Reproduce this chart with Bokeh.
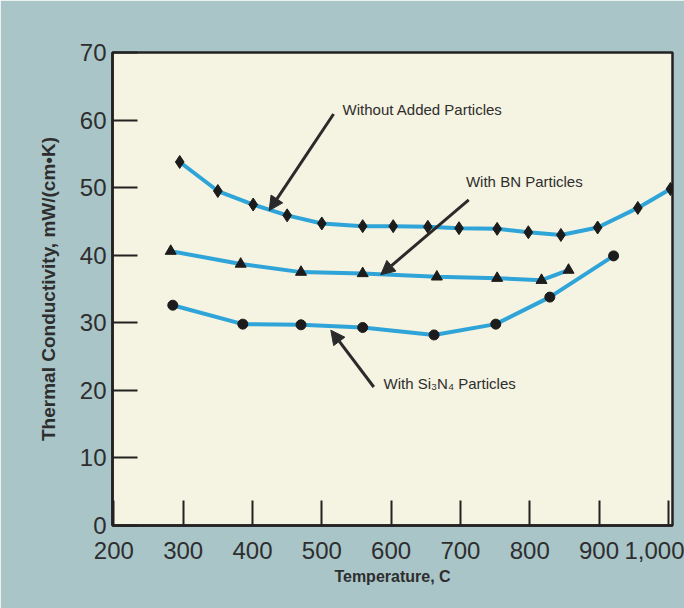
from bokeh.plotting import figure
from bokeh.models import Arrow, NormalHead, Label, FixedTicker, NumeralTickFormatter, Range1d
from bokeh.embed import file_html
from bokeh.resources import INLINE

# ---- data ----
temp_without = [295, 350, 401, 450, 500, 559, 603, 653, 698, 753, 798, 845, 898, 956, 1003]
k_without = [53.8, 49.5, 47.5, 45.9, 44.7, 44.3, 44.3, 44.2, 44.0, 43.9, 43.4, 43.0, 44.1, 47.0, 49.8]

temp_bn = [282, 383, 470, 559, 666, 753, 817, 856]
k_bn = [40.6, 38.7, 37.5, 37.3, 36.8, 36.6, 36.3, 37.8]

temp_si = [285, 386, 470, 559, 662, 751, 829, 921]
k_si = [32.6, 29.8, 29.7, 29.3, 28.2, 29.8, 33.8, 39.9]

x_ticks = [200, 300, 400, 500, 600, 700, 800, 900, 1000]
y_ticks = [0, 10, 20, 30, 40, 50, 60, 70]

x_label = "Temperature, C"
y_label = "Thermal Conductivity, mW/(cm\u2022K)"

# annotation texts: (text, x, y) and arrows (x_start, y_start, x_end, y_end)
notes = [
    ("Without Added Particles", 530, 61.5),
    ("With BN Particles", 708, 50.9),
    ("With Si\u2083N\u2084 Particles", 589, 21.0),
]
arrows = [
    (517, 60.9, 424, 46.6),
    (712, 48.2, 585, 37.1),
    (575, 20.5, 513, 28.9),
]

FONT = "Liberation Sans"
LINE = "#2fa4d8"
MARK = "#1c1c1c"
TXT = "#2e2e2e"

p = figure(width=684, height=608, output_backend="svg", toolbar_location=None,
           x_range=Range1d(198, 1006), y_range=Range1d(0, 70),
           min_border_left=112, min_border_right=12, min_border_top=52, min_border_bottom=83)

p.background_fill_color = "#f5f3e1"
p.border_fill_color = "#a9c5c8"
p.outline_line_color = "#222222"
p.outline_line_width = 2.5
p.grid.visible = False

for ax in (p.xaxis[0], p.yaxis[0]):
    ax.axis_line_color = "#222222"
    ax.axis_line_width = 2.5
    ax.major_tick_in = 25
    ax.major_tick_out = 0
    ax.major_tick_line_width = 2
    ax.major_tick_line_color = "#222222"
    ax.minor_tick_line_color = None
    ax.major_label_text_font = FONT
    ax.major_label_text_font_size = "24px"
    ax.major_label_text_color = TXT
    ax.axis_label_text_font = FONT
    ax.axis_label_text_font_style = "bold"
    ax.axis_label_text_color = TXT

p.xaxis.ticker = FixedTicker(ticks=x_ticks)
p.xaxis.formatter = NumeralTickFormatter(format="0,0")
p.xaxis.major_label_standoff = 16
p.xaxis.axis_label = x_label
p.xaxis.axis_label_text_font_size = "16px"
p.xaxis.axis_label_standoff = 6

p.yaxis.ticker = FixedTicker(ticks=y_ticks)
p.yaxis.major_label_standoff = 6
p.yaxis.axis_label = y_label
p.yaxis.axis_label_text_font_size = "19px"
p.yaxis.axis_label_standoff = 18

# series
p.line(temp_without, k_without, line_color=LINE, line_width=4)
p.scatter(temp_without, k_without, marker="diamond", size=13, color=MARK)

p.line(temp_bn, k_bn, line_color=LINE, line_width=4)
p.scatter(temp_bn, k_bn, marker="triangle", size=11, color=MARK)

p.line(temp_si, k_si, line_color=LINE, line_width=4)
p.scatter(temp_si, k_si, marker="circle", size=10, color=MARK)

# arrows and labels
for xs, ys, xe, ye in arrows:
    p.add_layout(Arrow(x_start=xs, y_start=ys, x_end=xe, y_end=ye,
                       line_color="#2a2a2a", line_width=3,
                       end=NormalHead(size=14, fill_color="#2a2a2a", line_color="#2a2a2a")))

for txt, x, y in notes:
    p.add_layout(Label(x=x, y=y, text=txt, text_baseline="middle", text_align="left",
                       text_font=FONT, text_font_size="15px", text_color=TXT))

open("out.html", "w").write(file_html(p, INLINE))
